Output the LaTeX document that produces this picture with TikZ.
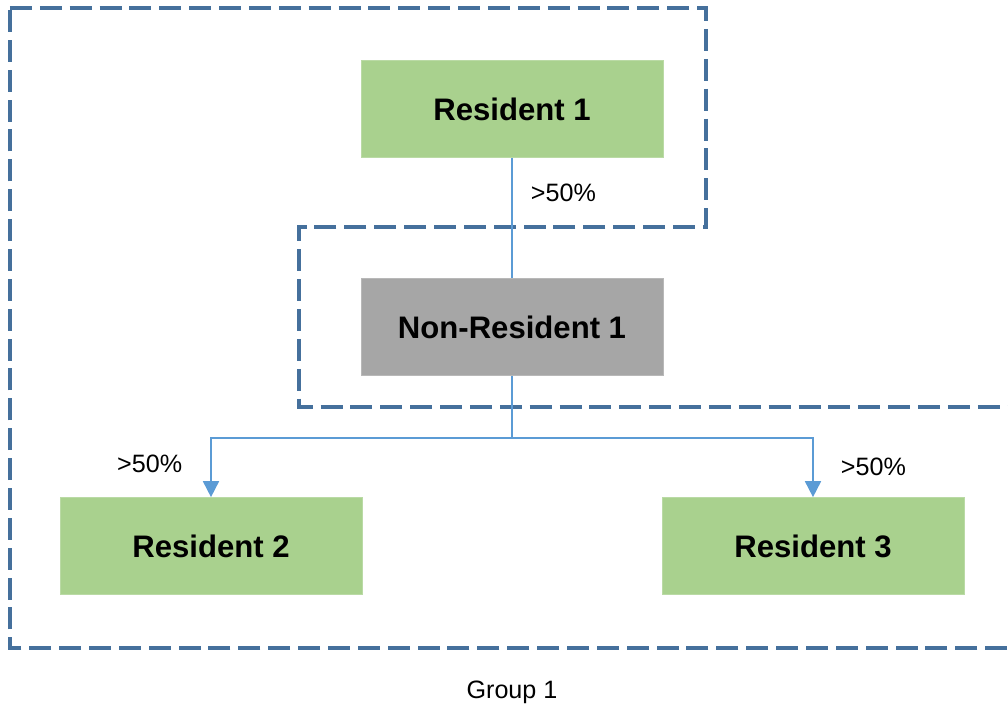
\documentclass[tikz,border=0pt]{standalone}
\usepackage{fontspec}
\setmainfont{Liberation Sans}
\usepackage{tikz}
\usetikzlibrary{shapes,arrows.meta,positioning,calc}
\definecolor{resgreen}{HTML}{A9D18E}
\definecolor{nongray}{HTML}{A6A6A6}
\definecolor{linkblue}{HTML}{5B9BD5}
\definecolor{groupblue}{HTML}{45709C}
\tikzstyle{greenblock}=[fill=resgreen, draw=resgreen!80!white, rectangle, minimum height=1.94cm, minimum width=6.04cm, inner sep=0mm, font=\fontsize{17.7}{20}\selectfont\bfseries]
\tikzstyle{grayblock}=[greenblock, fill=nongray, draw=nongray!80!white]
\tikzstyle{input} = [coordinate]
\tikzstyle{link} = [draw=linkblue, line width=1pt]
\tikzstyle{share} = [font=\fontsize{14.3}{17}\selectfont, inner sep=0pt]
\tikzstyle{groupline} = [draw=groupblue, line width=2.2pt, dash pattern=on 12.5pt off 4.5pt]
\pgfdeclarelayer{background}
\pgfsetlayers{background,main}

\begin{document}
\begin{tikzpicture}[node distance=1.0cm, >={Triangle[width=0.32cm,length=0.32cm]}]
      \useasboundingbox (-10.24,2.18) rectangle (9.92,-12.04);
      \node[greenblock] (res1) {Resident 1};
      \node[grayblock, below of=res1, node distance=4.36cm] (nonres1) {Non-Resident 1};
      \node[input, below of=nonres1, node distance=4.38cm] (mid) {};
      \node[greenblock, left of=mid, node distance=6.02cm] (res2) {Resident 2};
      \node[greenblock, right of=mid, node distance=6.02cm] (res3) {Resident 3};
      \node[input, below of=nonres1, node distance=2.22cm] (split) {};
      \draw[link] (res1) -- node[share, anchor=west, pos=0.29, xshift=0.36cm]{>50\%} (nonres1);
      \draw[link] (nonres1) -- (split);
      \draw[link, ->] (split) -| node[share, anchor=east, pos=0.72, xshift=-0.56cm]{>50\%} (res2);
      \draw[link, ->] (split) -| node[share, anchor=west, pos=0.74, xshift=0.54cm]{>50\%} (res3);
      \begin{pgfonlayer}{background}
        \draw[groupline] (-10.04,2.02) -- (3.88,2.02) -- (3.88,-2.36) -- (-4.26,-2.36)
          -- (-4.26,-5.96) -- (10.5,-5.96);
        \draw[groupline] (10.5,-10.78) -- (-10.04,-10.78) -- (-10.04,2.02);
      \end{pgfonlayer}
      \node[share, below of=mid, node distance=2.92cm] (group1) {Group 1};
\end{tikzpicture}
\end{document}
